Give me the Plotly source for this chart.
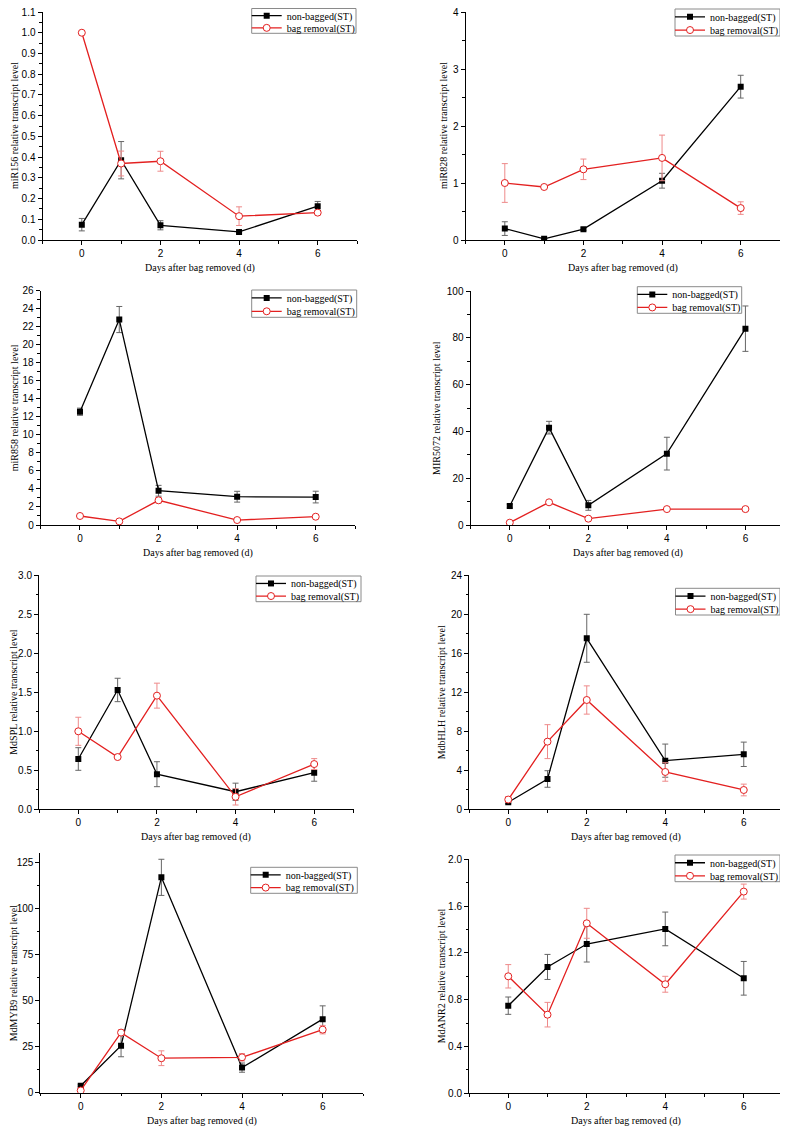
import plotly.graph_objects as go

# ---------------- data ----------------
days = [0, 1, 2, 4, 6]
series_names = ["non-bagged(ST)", "bag removal(ST)"]
x_title = "Days after bag removed (d)"
genes = ["miR156", "miR828", "miR858", "MIR5072", "MdSPL", "MdbHLH", "MdMYB9", "MdANR2"]

miR156_nb = [0.074, 0.385, 0.071, 0.039, 0.163]
miR156_nb_err = [0.03, 0.09, 0.022, 0.005, 0.023]
miR156_br = [1.0, 0.369, 0.38, 0.115, 0.132]
miR156_br_err = [0.0, 0.06, 0.048, 0.045, 0.01]

miR828_nb = [0.2, 0.02, 0.19, 1.04, 2.69]
miR828_nb_err = [0.12, 0.0, 0.02, 0.13, 0.2]
miR828_br = [1.0, 0.93, 1.24, 1.44, 0.56]
miR828_br_err = [0.34, 0.02, 0.18, 0.40, 0.11]

miR858_nb = [12.57, 22.8, 3.8, 3.14, 3.1]
miR858_nb_err = [0.4, 1.45, 0.6, 0.6, 0.65]
miR858_br = [1.0, 0.4, 2.74, 0.55, 0.92]
miR858_br_err = [0.05, 0.05, 0.3, 0.1, 0.1]

MIR5072_nb = [8.1, 41.6, 8.4, 30.5, 83.9]
MIR5072_nb_err = [0.8, 2.7, 2.1, 7.0, 9.7]
MIR5072_br = [1.0, 9.7, 2.7, 6.8, 6.8]
MIR5072_br_err = [0.2, 0.5, 0.3, 0.4, 0.5]

MdSPL_nb = [0.645, 1.53, 0.45, 0.225, 0.47]
MdSPL_nb_err = [0.145, 0.15, 0.16, 0.11, 0.11]
MdSPL_br = [1.0, 0.67, 1.457, 0.16, 0.58]
MdSPL_br_err = [0.18, 0.01, 0.16, 0.105, 0.07]

MdbHLH_nb = [0.72, 3.11, 17.54, 4.99, 5.64]
MdbHLH_nb_err = [0.1, 0.85, 2.46, 1.7, 1.25]
MdbHLH_br = [1.0, 6.94, 11.21, 3.83, 1.98]
MdbHLH_br_err = [0.3, 1.74, 1.45, 0.95, 0.6]

MdMYB9_nb = [3.8, 25.5, 116.8, 13.6, 39.9]
MdMYB9_nb_err = [0.5, 6.0, 9.8, 2.5, 7.2]
MdMYB9_br = [1.2, 32.6, 18.7, 19.2, 34.2]
MdMYB9_br_err = [0.5, 1.5, 4.0, 2.0, 2.3]

MdANR2_nb = [0.749, 1.08, 1.276, 1.405, 0.983]
MdANR2_nb_err = [0.074, 0.107, 0.154, 0.144, 0.144]
MdANR2_br = [1.0, 0.672, 1.453, 0.932, 1.724]
MdANR2_br_err = [0.1, 0.105, 0.128, 0.068, 0.064]

nb_values = [miR156_nb, miR828_nb, miR858_nb, MIR5072_nb, MdSPL_nb, MdbHLH_nb, MdMYB9_nb, MdANR2_nb]
nb_errors = [miR156_nb_err, miR828_nb_err, miR858_nb_err, MIR5072_nb_err, MdSPL_nb_err, MdbHLH_nb_err, MdMYB9_nb_err, MdANR2_nb_err]
br_values = [miR156_br, miR828_br, miR858_br, MIR5072_br, MdSPL_br, MdbHLH_br, MdMYB9_br, MdANR2_br]
br_errors = [miR156_br_err, miR828_br_err, miR858_br_err, MIR5072_br_err, MdSPL_br_err, MdbHLH_br_err, MdMYB9_br_err, MdANR2_br_err]

# y axis: range max, major step, minor step, format
y_max = [1.1, 4, 26, 100, 3.0, 24, 130, 2.0]
y_dtick = [0.1, 1, 2, 20, 0.5, 4, 25, 0.4]
y_minor = [0.05, 0.5, 1, 10, 0.25, 2, 12.5, 0.2]
y_fmt = [".1f", "d", "d", "d", ".1f", "d", "d", ".1f"]

# ---------------- layout geometry (page pixels) ----------------
W, H, OFF = 780, 1122, 8
# plot boxes: x0, x1, ytop, ybottom
boxes = [
    (42.5, 357, 12, 240),
    (465.5, 780, 12, 240),
    (40.7, 355, 290.7, 525),
    (470.5, 784.7, 291, 525),
    (39.0, 353.5, 575.3, 809.3),
    (469, 783, 575.3, 809.3),
    (40.4, 363, 853, 1092.7),
    (469, 783, 859.3, 1093.3),
]
ytitle_x = [14, 443, 14.5, 437, 13.5, 441, 13.5, 441]
# legend frames: left, top, right, bottom
legend_box = [(251.7, 8.5, 356, 33.3), (675, 9, 780, 36), (251.7, 290, 356.7, 317.3),
              (637.3, 286.7, 741.7, 313.3), (256, 576, 361, 601.7), (675.5, 588.3, 780, 615),
              (250.7, 867.3, 357.3, 893.3), (675, 855, 780, 881.7)]


def clamp(v):
    return min(1.0, max(0.0, v))


def px(x, c=True):
    v = (x - OFF) / W
    return clamp(v) if c else v


def py(y, c=True):
    v = 1 - (y - OFF) / H
    return clamp(v) if c else v


SANS = "Liberation Sans, Arial, sans-serif"
SERIF = "Liberation Serif, Times New Roman, serif"
RED = "#e32020"

fig = go.Figure()
annotations = []
shapes = []
layout = {}

for i in range(8):
    n = "" if i == 0 else str(i + 1)
    xa, ya = "x" + n, "y" + n
    lgA = "legend" + ("" if i == 0 else str(2 * i + 1))
    lgB = "legend" + str(2 * i + 2)
    x0, x1, yt, yb = boxes[i]
    fig.add_trace(go.Scatter(
        x=days, y=nb_values[i], name=series_names[0], mode="lines+markers",
        xaxis=xa, yaxis=ya, legend=lgA,
        line=dict(color="black", width=1.3),
        marker=dict(symbol="square", size=6, color="black"),
        error_y=dict(type="data", array=nb_errors[i], color="#666666", thickness=1, width=3),
    ))
    fig.add_trace(go.Scatter(
        x=days, y=br_values[i], name=series_names[1], mode="lines+markers",
        xaxis=xa, yaxis=ya, legend=lgB,
        line=dict(color=RED, width=1.3),
        marker=dict(symbol="circle", size=7, color="white", line=dict(color=RED, width=1)),
        error_y=dict(type="data", array=br_errors[i], color="#ee8a8a", thickness=1, width=3),
    ))
    layout["xaxis" + n] = dict(
        domain=[px(x0), px(x1)], range=[-1, 7], anchor=ya,
        showline=True, linecolor="black", linewidth=1, showgrid=False, zeroline=False,
        tickmode="linear", tick0=0, dtick=2, ticks="outside", ticklen=4, tickcolor="black",
        minor=dict(tickmode="linear", tick0=0, dtick=1, ticks="outside", ticklen=2.5, tickcolor="black"),
        tickfont=dict(family=SANS, size=10, color="black"), ticklabeloverflow="allow",
    )
    layout["yaxis" + n] = dict(
        domain=[py(yb), py(yt)], range=[0, y_max[i]], anchor=xa,
        showline=True, linecolor="black", linewidth=1, showgrid=False, zeroline=False,
        tickmode="linear", tick0=0, dtick=y_dtick[i], ticks="outside", ticklen=4, tickcolor="black",
        minor=dict(tickmode="linear", tick0=0, dtick=y_minor[i], ticks="outside", ticklen=2.5, tickcolor="black"),
        tickformat=y_fmt[i], tickfont=dict(family=SANS, size=10, color="black"),
        ticklabeloverflow="allow",
    )
    bl, bt, br, bb = legend_box[i]
    row1 = bt + (bb - bt) * 0.29
    row2 = bt + (bb - bt) * 0.78
    for lg, rc in ((lgA, row1), (lgB, row2)):
        layout[lg] = dict(
            x=px(bl - 5, False), y=py(rc - 14.5, False), xanchor="left", yanchor="top",
            borderwidth=0, bgcolor="rgba(0,0,0,0)",
            font=dict(family=SERIF, size=10, color="black"),
            tracegroupgap=0, itemwidth=30,
        )
    shapes.append(dict(
        type="rect", xref="paper", yref="paper",
        x0=px(bl), x1=px(br), y0=py(bb), y1=py(bt),
        line=dict(color="#8a8a8a", width=1), fillcolor="rgba(0,0,0,0)", layer="above",
    ))
    annotations.append(dict(
        text=genes[i] + " relative transcript level", textangle=-90,
        x=px(ytitle_x[i]), y=py((yt + yb) / 2), xref="paper", yref="paper",
        xanchor="center", yanchor="middle", showarrow=False,
        font=dict(family=SERIF, size=10, color="black"),
    ))
    annotations.append(dict(
        text=x_title, x=px((x0 + x1) / 2), y=py(yb + 28), xref="paper", yref="paper",
        xanchor="center", yanchor="middle", showarrow=False,
        font=dict(family=SERIF, size=10, color="black"),
    ))

fig.update_layout(
    width=W, height=H, margin=dict(l=0, r=0, t=0, b=0, autoexpand=False),
    paper_bgcolor="white", plot_bgcolor="white", showlegend=True,
    annotations=annotations, shapes=shapes, **layout,
)

fig.write_html("out.html")
